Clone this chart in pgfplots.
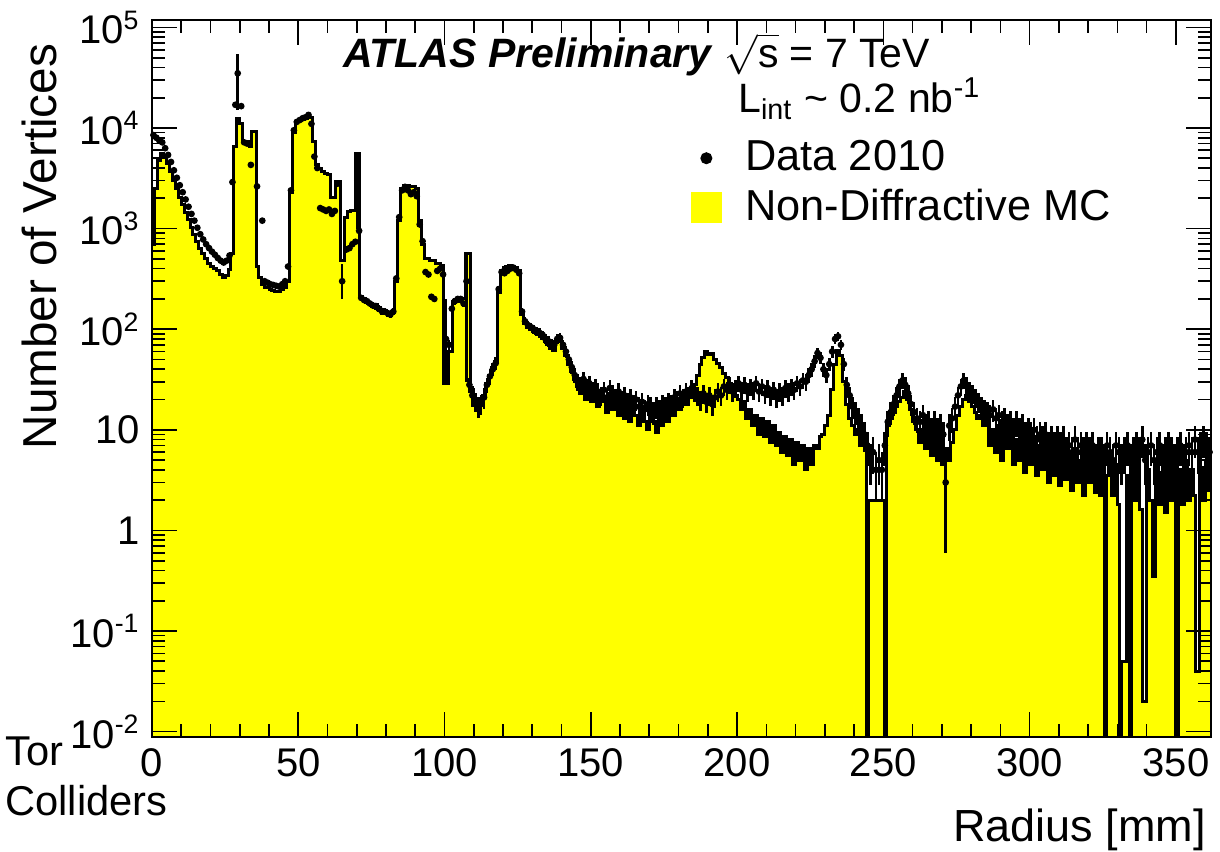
\documentclass[border=0pt]{standalone}
\usepackage{pgfplots}
\pgfplotsset{compat=1.18}
\usepackage{fontspec}
\setmainfont{Liberation Sans}
\definecolor{mcyellow}{RGB}{255,255,0}
\begin{document}
\begin{tikzpicture}
\begin{axis}[
  scale only axis, width=317.7pt, height=215.1pt,
  xmin=0, xmax=362, ymin=0.00885, ymax=1.185e5, ymode=log,
  clip mode=individual,
  axis on top,
  axis line style={line width=0.6pt},
  xtick={0,50,...,350}, minor x tick num=4,
  ytick={1e-2,1e-1,1,10,100,1000,1e4,1e5},
  yticklabels={10\textsuperscript{-2},10\textsuperscript{-1},1,10,10\textsuperscript{2},10\textsuperscript{3},10\textsuperscript{4},10\textsuperscript{5}},
  tick align=inside, major tick length=7.5pt, minor tick length=4pt,
  tick style={black, line width=0.5pt},
  ticklabel style={font=\fontsize{12}{14}\selectfont},
  /pgf/number format/assume math mode=true,
  xlabel={Radius [mm]}, ylabel={Number of Vertices},
  every axis x label/.style={at={(axis description cs:1.006,-0.13)}, anchor=east, font=\fontsize{13.5}{16}\selectfont},
  every axis y label/.style={at={(axis description cs:-0.106,0.684)}, anchor=center, rotate=90, font=\fontsize{14.3}{17}\selectfont},
  legend style={at={(axis description cs:0.508,0.842)}, anchor=north west, draw=none, fill=none, font=\fontsize{13}{15}\selectfont, row sep=0pt, column sep=5pt, inner sep=0pt},
  legend cell align=left, reverse legend,
]
\addplot[const plot mark left, fill=mcyellow, draw=black, line width=0.9pt,
  legend image code/.code={\fill[mcyellow] (0.15cm,-0.15cm) rectangle (0.45cm,0.15cm);}]
table {
x y
0 0.001
0 700
1 2500
2 4800
3 5600
4 5200
5 4400
6 3700
7 3000
8 2500
9 2050
10 1750
11 1450
12 1220
13 1030
14 880
15 750
16 640
17 560
18 500
19 450
20 420
21 400
22 380
23 350
24 330
25 340
26 390
27 560
28 6500
29 12400
30 11000
31 7300
33.3 6500
34 9200
35.6 420
36.5 330
37.5 280
38.5 260
40 250
41 245
42 238
43 235
44 250
45 260
46 300
47 2300
48 9000
49 11500
50 11800
51 12200
52 12500
53 13000
54 12800
55 7300
56 4300
57 4000
58 3700
59 3500
60 3450
61 2050
62.7 2950
64.4 480
65.8 1290
66.8 1480
68 1500
69.5 5600
71 210
72 200
73 185
74 180
75 170
76 175
77 165
78 150
79 155
80 145
81 140
82 150
83 300
84 1200
85 2500
86 2700
87 2700
88 2600
89 2600
90 2500
91 1200
92 700
93.3 500
95 480
97 450
98.5 430
99.8 29
101.3 60
102.8 190
105.2 200
107.3 560
108.8 25
110 20
111 17
112 18
113 22
114 29
115 35
116 42
117 48
118 230
119 380
120 410
121 420
122 430
123 420
124 410
125 380
126 140
127 115
128 105
129 100
130 95
131 90
132 88
133 80
134 75
135 70
136 65
137 62
138 75
139 80
140 65
141 55
142 45
143 38
144 32
145 27
146 23
147 30
148 20
149 27
150 19
151 25
152 17
153 24
154 19
155 15
156 23
157 16
158 21
159 14
160 20
161 13
162 19
163 12
164 18
165 14
166 11
167 17
168 12
169 10
170 16
171 12
172 9.5
173 15
174 11
175 17
176 12
177 18
178 14
179 20
180 16
181 22
182 18
183 25
184 21
185 28
186 35
187 45
188 52
189 60
190 56
191 58
192 50
193 46
194 42
195 36
196 33
197 29
198 25
199 22
200 20
201 16
202 19
203 13
204 16
205 11
206 14
207 9
208 13
209 8.5
210 12
211 7.5
212 11
213 7
214 9.5
215 6
216 8.5
217 5.5
218 8
219 4.5
220 7.5
221 5
222 7
223 4
224 6.5
225 4.5
226 7
227 6.5
228 8.5
229 9
230 11
231 14
232 25
233 45
234 62
235 55
236 30
237 18
238 13
239 11
240 9
241 10
242 7
243 8
244.3 0.001
244.9 2.0
250.3 0.001
250.9 11
252 13
253 15
254 17
255 19
256 21
257 24
258 20
259 16
260 12
261 10
262 7.5
263 10
264 6.5
265 9
266 5.5
267 8.5
268 5
269 7.5
270 4.5
271 6.5
272 5
273 7.5
274 10
275 14
276 17
277 20
278 22
279 19
280 17
281 15
282 13
283 14
284 11
285 14
286 7
287 10
288 6
289 11
290 5
291 9
292 6.5
293 10
294 4.5
295 8
296 5
297 9
298 3.8
299 7
300 4.5
301 8.5
302 3.5
303 7
304 4
305 6.5
306 3
307 8
308 3.5
309 6
310 2.8
311 7
312 3.2
313 5.5
314 2.5
315 6.5
316 3
317 5
318 2.2
319 6
320 3
321 5.5
322 2.4
323 4.5
324 2.2
325 5
325.6 0.001
326.2 3.5
327 5.5
328 2.2
329 4.5
330 1.8
330.8 0.001
331.3 0.05
333 3.5
334.2 0.001
334.8 4
335.5 2
336.5 5
337.5 1.6
338.5 0.02
340 4
341 2
342 0.35
343 4.5
344 1.8
345 3.8
346 1.5
347 4.5
348 2
349 3.5
350 0.001
351 4
352 1.8
353 5
354 2
355 4
356 2.2
356.8 0.04
358 4.2
359 2
360 5
361 2.5
362 2.5
362 0.001
};
\addlegendentry{Non-Diffractive MC}
\addplot[only marks, mark=*, mark size=0.8pt, black,
  legend image post style={mark size=1.6pt},
  error bars/.cd, y dir=both, y explicit, error mark=none,
  error bar style={line width=0.8pt, black}]
table[x=x, y=y, y error plus=ep, y error minus=em] {
x y ep em
0.5 8500 92 92
1.5 8000 90 90
2.5 7500 87 87
3.5 7200 85 85
4.5 6300 80 80
5.5 5400 73 73
6.5 4600 68 68
7.5 3800 62 62
8.5 3200 57 57
9.5 2700 52 52
10.5 2300 48 48
11.5 1950 44 44
12.5 1650 41 41
13.5 1400 37 37
14.5 1200 35 35
15.5 1020 32 32
16.5 880 30 30
17.5 780 28 28
18.5 700 26 26
19.5 640 25 25
20.5 590 24 24
21.5 550 23 23
22.5 510 23 23
23.5 480 22 22
24.5 460 21 21
25.5 480 22 22
26.5 540 23 23
27.5 2900 54 54
28.5 17000 130 130
29.3 35000 20000 20000
30.5 16500 130 130
31.5 7200 85 85
32.5 7000 84 84
33.8 4300 66 66
35.9 2630 51 51
37.7 1200 35 35
38.5 300 17 17
39.5 290 17 17
40.5 280 17 17
41.5 275 17 17
42.5 270 16 16
43.5 265 16 16
44.5 280 17 17
45.5 300 17 17
46.5 420 20 20
47.5 2400 49 49
48.5 9500 97 97
49.5 11500 107 107
50.5 12000 110 110
51.5 12500 112 112
52.5 12800 113 113
53.5 13500 116 116
54.5 11000 105 105
55.5 5200 72 72
56.5 4000 63 63
57.5 1600 40 40
58.5 1550 39 39
59.5 1500 39 39
60.5 1550 39 39
61.5 1400 37 37
62.5 1500 39 39
63.5 2800 53 53
65 300 150 100
66.5 620 25 25
67.5 640 25 25
68.5 700 26 26
69.5 740 27 27
70.2 3000 2500 2000
70.8 950 31 31
71.5 205 14 14
72.5 195 14 14
73.5 190 14 14
74.5 180 13 13
75.5 172 13 13
76.5 170 13 13
77.5 160 13 13
78.5 152 12 12
79.5 150 12 12
80.5 145 12 12
81.5 140 12 12
82.5 150 12 12
83.5 320 18 18
84.5 1300 36 36
85.5 2400 49 49
86.5 2600 51 51
87.5 2400 49 49
88.5 2200 47 47
89.5 2300 48 48
90.5 2100 46 46
91.5 1100 33 33
92.5 750 27 27
93.5 370 19 19
94.5 350 19 19
95.5 210 15 15
96.5 200 14 14
97.5 380 19 19
98.5 400 20 20
99.5 350 19 19
100.5 80 120 50
101.5 70 8 8
102.5 160 13 13
103.5 190 14 14
104.5 200 14 14
105.5 200 14 14
106.5 180 13 13
107.5 300 260 270
108.5 28 5 5
109.5 22 5 5
110.5 19 4 4
111.5 17 4 4
112.5 18 4 4
113.5 21 5 5
114.5 28 5 5
115.5 34 6 6
116.5 40 6 6
117.5 46 7 7
118.5 250 16 16
119.5 370 19 19
120.5 360 19 19
121.5 380 19 19
122.5 400 20 20
123.5 410 20 20
124.5 390 20 20
125.5 360 19 19
126.5 150 12 12
127.5 120 11 11
128.5 110 10 10
129.5 105 10 10
130.5 100 10 10
131.5 96 10 10
132.5 92 10 10
133.5 88 9 9
134.5 80 9 9
135.5 76 9 9
136.5 72 8 8
137.5 70 8 8
138.5 80 9 9
139.5 82 9 9
140.5 70 8 8
141.5 60 8 8
142.5 50 7 7
143.5 42 6 6
144.5 35 6 6
145.5 30 5.5 5.5
146.5 28 5.3 5.3
147.5 32 5.7 5.7
148.5 27 5.2 5.2
149.5 29 5.4 5.4
150.5 25 5 5
151.5 27 5.2 5.2
152.5 24 4.9 4.9
153.5 22 4.7 4.7
154.5 25 5 5
155.5 21 4.6 4.6
156.5 26 5.1 5.1
157.5 23 4.8 4.8
158.5 21 4.6 4.6
159.5 24 4.9 4.9
160.5 20 4.5 4.5
161.5 22 4.7 4.7
162.5 19 4.4 4.4
163.5 21 4.6 4.6
164.5 18 4.2 4.2
165.5 20 4.5 4.5
166.5 17 4.1 4.1
167.5 19 4.4 4.4
168.5 16 4 4
169.5 18 4.2 4.2
170.5 17 4.1 4.1
171.5 15 3.9 3.9
172.5 17 4.1 4.1
173.5 16 4 4
174.5 18 4.2 4.2
175.5 17 4.1 4.1
176.5 19 4.4 4.4
177.5 18 4.2 4.2
178.5 21 4.6 4.6
179.5 20 4.5 4.5
180.5 23 4.8 4.8
181.5 21 4.6 4.6
182.5 24 4.9 4.9
183.5 22 4.7 4.7
184.5 26 5.1 5.1
185.5 24 4.9 4.9
186.5 22 4.7 4.7
187.5 20 4.5 4.5
188.5 23 4.8 4.8
189.5 19 4.4 4.4
190.5 22 4.7 4.7
191.5 18 4.2 4.2
192.5 21 4.6 4.6
193.5 24 4.9 4.9
194.5 22 4.7 4.7
195.5 27 5.2 5.2
196.5 25 5 5
197.5 28 5.3 5.3
198.5 24 4.9 4.9
199.5 26 5.1 5.1
200.5 29 5.4 5.4
201.5 25 5 5
202.5 28 5.3 5.3
203.5 24 4.9 4.9
204.5 27 5.2 5.2
205.5 25 5 5
206.5 29 5.4 5.4
207.5 24 4.9 4.9
208.5 27 5.2 5.2
209.5 23 4.8 4.8
210.5 26 5.1 5.1
211.5 22 4.7 4.7
212.5 25 5 5
213.5 21 4.6 4.6
214.5 24 4.9 4.9
215.5 22 4.7 4.7
216.5 26 5.1 5.1
217.5 24 4.9 4.9
218.5 27 5.2 5.2
219.5 25 5 5
220.5 29 5.4 5.4
221.5 27 5.2 5.2
222.5 31 5.6 5.6
223.5 30 5.5 5.5
224.5 35 5.9 5.9
225.5 40 6.3 6.3
226.5 48 6.9 6.9
227.5 58 7.6 7.6
228.5 52 7.2 7.2
229.5 40 6.3 6.3
230.5 35 5.9 5.9
231.5 45 6.7 6.7
232.5 60 7.7 7.7
233.5 80 8.9 8.9
234.5 85 9.2 9.2
235.5 70 8.4 8.4
236.5 45 6.7 6.7
237.5 28 5.3 5.3
238.5 22 4.7 4.7
239.5 17 4.1 4.1
240.5 15 3.9 3.9
241.5 13 3.6 3.6
242.5 11 3.3 3.3
243.5 9 3 3
244.5 7 2.6 2.6
245.5 5 2.2 2.2
246.5 6 2.4 2.4
247.5 4 2 2
248.5 5 2.2 2.2
249.5 4 2 2
250.5 7 2.6 2.6
251.5 12 3.5 3.5
252.5 15 3.9 3.9
253.5 18 4.2 4.2
254.5 22 4.7 4.7
255.5 27 5.2 5.2
256.5 31 5.6 5.6
257.5 28 5.3 5.3
258.5 23 4.8 4.8
259.5 18 4.2 4.2
260.5 15 3.9 3.9
261.5 13 3.6 3.6
262.5 12 3.5 3.5
263.5 14 3.7 3.7
264.5 11 3.3 3.3
265.5 12 3.5 3.5
266.5 10 3.2 3.2
267.5 12 3.5 3.5
268.5 10 3.2 3.2
269.5 11 3.3 3.3
270.5 9 3 3
271.3 3 2 2.4
272.5 11 3.3 3.3
273.5 13 3.6 3.6
274.5 17 4.1 4.1
275.5 22 4.7 4.7
276.5 27 5.2 5.2
277.5 31 5.6 5.6
278.5 28 5.3 5.3
279.5 25 5 5
280.5 23 4.8 4.8
281.5 21 4.6 4.6
282.5 19 4.4 4.4
283.5 17 4.1 4.1
284.5 16 4 4
285.5 15 3.9 3.9
286.5 14 3.7 3.7
287.5 16 4 4
288.5 13 3.6 3.6
289.5 14 3.7 3.7
290.5 12 3.5 3.5
291.5 13 3.6 3.6
292.5 11 3.3 3.3
293.5 12 3.5 3.5
294.5 10 3.2 3.2
295.5 12 3.5 3.5
296.5 10 3.2 3.2
297.5 11 3.3 3.3
298.5 9 3 3
299.5 10 3.2 3.2
300.5 9 3 3
301.5 10 3.2 3.2
302.5 8 2.8 2.8
303.5 9 3 3
304.5 8 2.8 2.8
305.5 9 3 3
306.5 7 2.6 2.6
307.5 8 2.8 2.8
308.5 7 2.6 2.6
309.5 8 2.8 2.8
310.5 7 2.6 2.6
311.5 8 2.8 2.8
312.5 6 2.4 2.4
313.5 7 2.6 2.6
314.5 6 2.4 2.4
315.5 8 2.8 2.8
316.5 6 2.4 2.4
317.5 7 2.6 2.6
318.5 6 2.4 2.4
319.5 7 2.6 2.6
320.5 6 2.4 2.4
321.5 7 2.6 2.6
322.5 5 2.2 2.2
323.5 6 2.4 2.4
324.5 6 2.4 2.4
325.5 5 2.2 2.2
326.5 7 2.6 2.6
327.5 6 2.4 2.4
328.5 5 2.2 2.2
329.5 7 2.6 2.6
330.5 6 2.4 2.4
331.5 5 2.2 2.2
332.5 6 2.4 2.4
333.5 7 2.6 2.6
334.5 5 2.2 2.2
335.5 6 2.4 2.4
336.5 7 2.6 2.6
337.5 6 2.4 2.4
338.5 8 2.8 2.8
339.5 5 2.2 2.2
340.5 6 2.4 2.4
341.5 7 2.6 2.6
342.5 5 2.2 2.2
343.5 6 2.4 2.4
344.5 7 2.6 2.6
345.5 5 2.2 2.2
346.5 6 2.4 2.4
347.5 7 2.6 2.6
348.5 6 2.4 2.4
349.5 5 2.2 2.2
350.5 6 2.4 2.4
351.5 7 2.6 2.6
352.5 5 2.2 2.2
353.5 6 2.4 2.4
354.5 7 2.6 2.6
355.5 6 2.4 2.4
356.5 8 2.8 2.8
357.5 6 2.4 2.4
358.5 7 2.6 2.6
359.5 8 2.8 2.8
360.5 7 2.6 2.6
361.5 6 2.4 2.4
};
\addlegendentry{Data 2010}
\node[anchor=west, font=\fontsize{12.3}{14}\selectfont, inner sep=0pt] at (rel axis cs:0.180,0.952) {\textbf{\textit{ATLAS Preliminary}} $\sqrt{\mbox{s}}$ = 7 TeV};
\node[anchor=west, font=\fontsize{12.3}{14}\selectfont, inner sep=0pt] at (rel axis cs:0.553,0.890) {L\textsubscript{int} \textasciitilde{} 0.2 nb\textsuperscript{-1}};
\node[anchor=west, font=\fontsize{12.5}{14}\selectfont, inner sep=0pt] at (rel axis cs:-0.139,-0.02) {Tor};
\node[anchor=west, font=\fontsize{12.5}{14}\selectfont, inner sep=0pt] at (rel axis cs:-0.139,-0.089) {Colliders};
\coordinate (bl) at (rel axis cs:0,0);
\coordinate (tr) at (rel axis cs:1,1);
\end{axis}
\path (bl) ++(-45.6pt,-34.5pt) coordinate (A);
\path (tr) ++(2.7pt,6pt) coordinate (B);
\pgfresetboundingbox
\useasboundingbox (A) rectangle (B);
\end{tikzpicture}
\end{document}
